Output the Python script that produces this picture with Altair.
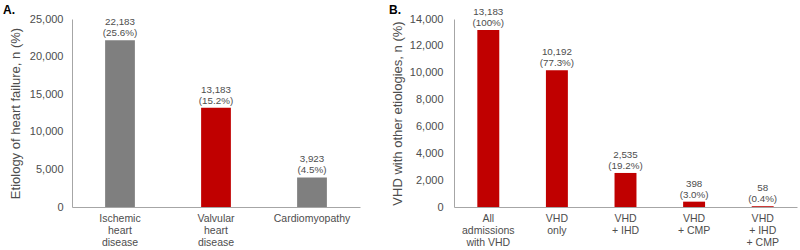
import altair as alt
import pandas as pd

# Panel A data
cats_a = ["Ischemic\nheart\ndisease", "Valvular\nheart\ndisease", "Cardiomyopathy"]
vals_a = [22183, 13183, 3923]
pcts_a = ["25.6%", "15.2%", "4.5%"]
cols_a = ["#7f7f7f", "#c00000", "#7f7f7f"]

# Panel B data
cats_b = ["All\nadmissions\nwith VHD", "VHD\nonly", "VHD\n+ IHD", "VHD\n+ CMP", "VHD\n+ IHD\n+ CMP"]
vals_b = [13183, 10192, 2535, 398, 58]
pcts_b = ["100%", "77.3%", "19.2%", "3.0%", "0.4%"]
cols_b = ["#c00000"] * 5

ticks_a = [0, 5000, 10000, 15000, 20000, 25000]
ticks_b = [0, 2000, 4000, 6000, 8000, 10000, 12000, 14000]

letters = ["A.", "B."]

FONT = "Liberation Sans"
TXT = "#4d4d4d"
AXC = "#a6a6a6"

df_a = pd.DataFrame({"cat": cats_a, "val": vals_a, "pct": pcts_a, "col": cols_a})
df_b = pd.DataFrame({"cat": cats_b, "val": vals_b, "pct": pcts_b, "col": cols_b})


def panel(df, cats, ymax, ticks, ytitle, letter, w, pin, pout, lblpad, title_dx):
    x = alt.X("cat:N", sort=cats, title=None,
              scale=alt.Scale(paddingInner=pin, paddingOuter=pout),
              axis=alt.Axis(labelAngle=0, ticks=False, domainColor=AXC, labelFont=FONT,
                            labelFontSize=10.5, labelColor=TXT, labelPadding=6,
                            labelLineHeight=12.3, labelBaseline="top",
                            labelExpr="split(datum.label, '\\n')"))
    y = alt.Y("val:Q", title=ytitle,
              scale=alt.Scale(domain=[0, ymax], nice=False),
              axis=alt.Axis(values=ticks, format=",.0f", grid=False, ticks=False,
                            domainColor=AXC, labelFont=FONT, labelFontSize=11,
                            labelColor=TXT, labelPadding=lblpad,
                            titleFont=FONT, titleFontSize=13, titleFontWeight="normal",
                            titleColor=TXT, titleX=-57, titleY=94, titleAngle=-90,
                            titleAlign="center", titleBaseline="middle"))
    base = alt.Chart(df).encode(x=x, y=y)
    bars = base.mark_bar().encode(color=alt.Color("col:N", scale=None))
    line1 = base.transform_calculate(
        lab="format(datum.val, ',')"
    ).mark_text(baseline="alphabetic", dy=-15, font=FONT, fontSize=9.8,
                color=TXT).encode(text="lab:N")
    line2 = base.transform_calculate(
        lab="'(' + datum.pct + ')'"
    ).mark_text(baseline="alphabetic", dy=-4, font=FONT, fontSize=9.8,
                color=TXT).encode(text="lab:N")
    tag = alt.Chart(pd.DataFrame({"t": [letter]})).mark_text(
        align="left", baseline="alphabetic", font=FONT, fontSize=12,
        fontWeight="bold", color="#000000"
    ).encode(text="t:N", x=alt.value(title_dx), y=alt.value(-5))
    return alt.layer(bars, line1, line2, tag).properties(width=w, height=188)


pa = panel(df_a, cats_a, 25000, ticks_a, "Etiology of heart failure, n (%)", letters[0],
           288, 0.69, 0.345, 9, -69)
pb = panel(df_b, cats_b, 14000, ticks_b, "VHD with other etiologies, n (%)", letters[1],
           343, 0.68, 0.34, 11, -65)

chart = alt.hconcat(pa, pb, spacing=29).properties(
    padding={"left": 3, "top": 4, "right": 3, "bottom": 0},
    background="white",
).configure_view(stroke=None)

chart.save("out.html", embed_options={"renderer": "svg", "actions": False})
